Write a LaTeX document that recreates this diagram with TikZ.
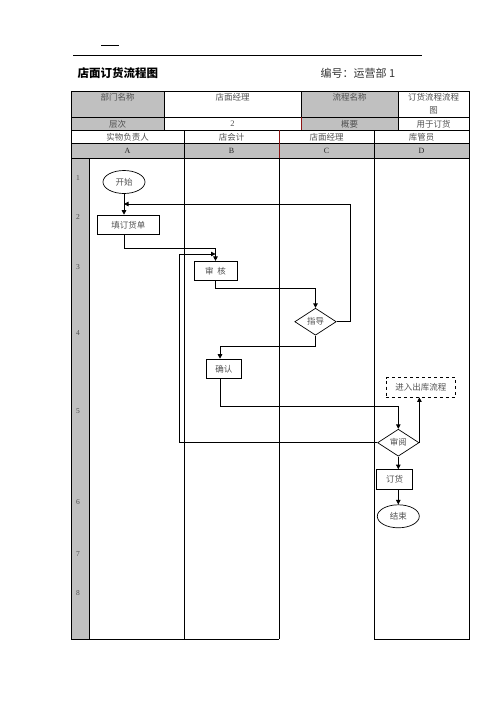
\documentclass[tikz,border=0pt]{standalone}
\usepackage{fontspec}
\setmainfont{Liberation Serif}
\newfontfamily\cjk{Noto Sans CJK SC}
\usepackage{xcolor}
\usepackage{tikz}
\usetikzlibrary{shapes.geometric, arrows.meta}
\definecolor{cellgray}{RGB}{192,192,192}
\definecolor{textgray}{RGB}{80,80,80}
\definecolor{darkred}{RGB}{140,20,20}

\begin{document}
\begin{tikzpicture}[x=1pt, y=-1pt,
    lane/.style={line width=0.8pt},
    cell/.style={font=\cjk\fontsize{8.5}{13}\selectfont, text=textgray, inner sep=0pt},
    rowno/.style={font=\fontsize{7.5}{9}\selectfont, text=textgray, inner sep=0pt},
    terminal/.style={ellipse, draw, line width=0.7pt, minimum width=42pt, minimum height=23pt,
                     inner sep=0pt, font=\cjk\fontsize{8.5}{10}\selectfont, text=textgray},
    process/.style={rectangle, draw, line width=0.7pt, minimum height=19.5pt,
                    inner sep=0pt, font=\cjk\fontsize{8.5}{10}\selectfont, text=textgray},
    decision/.style={diamond, draw, line width=0.7pt, minimum width=41.5pt, minimum height=27pt,
                     inner sep=0pt, font=\cjk\fontsize{8.5}{10}\selectfont, text=textgray},
    arrow/.style={-{Triangle[length=4.5pt, width=4.5pt]}, line width=0.8pt}
]
\useasboundingbox (0,0) rectangle (496,702);

% page head
\draw [line width=0.9pt] (101,45) -- (119,45);
\draw [line width=0.9pt] (73,55) -- (422,55);
\node (title) [anchor=west, font=\cjk\bfseries\fontsize{11.5}{14}\selectfont] at (74,73) {店面订货流程图};
\node (code)  [anchor=west, font=\cjk\fontsize{11}{14}\selectfont, text=black!80] at (317,73) {编号：运营部 1};

% table
\fill [cellgray] (71,91) rectangle (164,130);
\fill [cellgray] (301,91) rectangle (398,130);
\fill [cellgray] (71,143) rectangle (469,158);
\fill [cellgray] (71,158) rectangle (89,639);
\draw [lane] (71,91) rectangle (469,130);
\draw [lane] (71,117) -- (469,117);
\foreach \x in {164,301,398}
  \draw [lane] (\x,91) -- (\x,130);
\draw [lane] (71,130) -- (71,639) -- (279,639);
\draw [lane] (374,639) -- (469,639) -- (469,130);
\draw [lane] (71,143) -- (469,143);
\draw [lane] (71,158) -- (469,158);
\draw [lane] (89,158) -- (89,639);
\foreach \x in {184,374}
  \draw [lane] (\x,130) -- (\x,639);
\draw [lane] (279,158) -- (279,639);
\draw [lane, darkred] (279,130) -- (279,158);
\draw [lane, darkred] (301,117) -- (301,130);

\node (dept)   [cell, anchor=north] at (117.5,93) {部门名称};
\node (mgr)    [cell, anchor=north] at (232.5,93) {店面经理};
\node (flow)   [cell, anchor=north] at (349.5,93) {流程名称};
\node (flowid) [cell, anchor=north, align=center] at (433.5,93) {订货流程流程\\图};
\node (level)  [cell] at (117.5,124) {层次};
\node (levelv) [cell, font=\fontsize{8.5}{10}\selectfont] at (232.5,124) {2};
\node (brief)  [cell] at (349.5,124) {概要};
\node (briefv) [cell] at (433.5,124) {用于订货};
\foreach \n/\x/\t in {a/127.5/实物负责人, b/231.5/店会计, c/326.5/店面经理, d/421.5/库管员}
  \node (role\n) [cell] at (\x,137) {\t};
\foreach \n/\x in {A/127.5, B/231.5, C/326.5, D/421.5}
  \node (lane\n) [cell, font=\fontsize{8}{10}\selectfont, text=black!85] at (\x,151) {\n};
\foreach \n/\y in {1/178, 2/217, 3/267, 4/333, 5/411, 6/502, 7/554, 8/593}
  \node (row\n) [rowno] at (78,\y) {\n};

% flow
\node (start)   [terminal] at (124,182) {开始};
\node (fill)    [process, minimum width=62pt] at (128.3,224.8) {填订货单};
\node (review)  [process, minimum width=42.7pt] at (215.5,271) {审\ \ 核};
\node (guide)   [decision] at (315.5,321.7) {指导};
\node (confirm) [process, minimum width=35.7pt] at (223.8,368.8) {确认};
\node (exit)    [process, dashed, minimum width=69.7pt] at (420.8,387.3) {进入出库流程};
\node (audit)   [decision] at (398.3,442.7) {审阅};
\node (order)   [process, minimum width=35.6pt] at (394.5,479.3) {订货};
\node (end)     [terminal] at (398.3,516.3) {结束};
\coordinate (join) at (124,204);
\coordinate (loop) at (179.3,254);

\draw [arrow] (start) -- (start |- fill.north);
\draw [arrow] (start |- fill.south) -- ++(0,13.5) -| (review.north);
\draw [arrow] (review.south) -- ++(0,7.6) -| (guide.north);
\draw [arrow] (guide.east) -- ++(14,0) |- (join);
\draw [arrow] (guide.south) -- ++(0,11) -| ([xshift=-3.8pt]confirm.north);
\draw [arrow] ([xshift=-3.8pt]confirm.south) -- ++(0,27.4) -| (audit.north);
\draw [arrow] (audit.east) -- (audit.east |- exit.south);
\draw [arrow] (audit.west) -| (loop) -- (review.north |- loop);
\draw [arrow] (audit.south) -- (audit.south |- order.north);
\draw [arrow] (audit.south |- order.south) -- (end);
\end{tikzpicture}
\end{document}
